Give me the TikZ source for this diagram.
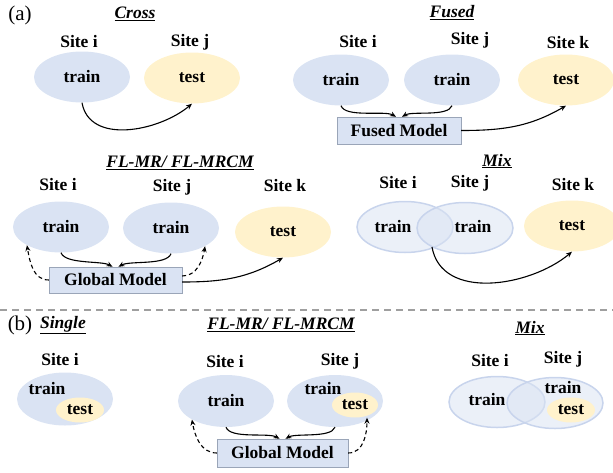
\documentclass[tikz,border=0pt]{standalone}
\usepackage{fontspec}
\setmainfont{Liberation Serif}
\usetikzlibrary{shapes.geometric,arrows.meta}
\definecolor{trainblue}{HTML}{DAE3F3}
\definecolor{testyellow}{HTML}{FFF2CC}
\definecolor{mixedge}{HTML}{C8D4EC}
\definecolor{boxedge}{HTML}{9AA5B8}
\begin{document}
\begin{tikzpicture}[x=1pt,y=1pt,
	every node/.style={font=\fontsize{17.5}{20}\selectfont\bfseries},
	lbl/.style={font=\fontsize{21}{24}\selectfont},
	ttl/.style={font=\fontsize{17.5}{20}\selectfont\bfseries\itshape},
	trn/.style={ellipse,fill=trainblue,minimum width=96pt,minimum height=51pt,inner sep=0pt},
	tst/.style={trn,fill=testyellow},
	mixtrn/.style={trn,fill opacity=0.55,draw=mixedge,line width=1.5pt},
	testin/.style={ellipse,fill=testyellow,minimum width=48pt,minimum height=25pt,inner sep=0pt},
	model/.style={rectangle,fill=trainblue,draw=boxedge,inner sep=0pt},
	flow/.style={-{Stealth[length=6pt,width=5pt]},line width=1.1pt},
	back/.style={flow,dash pattern=on 4pt off 3pt},
	inl/.style={out=-70,in=150,looseness=0.6},
	inr/.style={out=-110,in=30,looseness=0.6}]
	\useasboundingbox (0,0) rectangle (613,-472);

	% (a) Cross
	\node[lbl] (la) at (20,-15) {(a)};
	\node[ttl] (tcross) at (135,-14) {\underline{Cross}};
	\node (csi) at (79,-42) {Site i};
	\node (csj) at (190,-42) {Site j};
	\node[trn] (ci) at (82,-77) {train};
	\node[tst] (cj) at (192,-78) {test};
	\draw[flow] (ci.south) to[out=-80,in=-140] (cj.south);

	% (a) Fused
	\node[ttl] (tfused) at (452,-13) {\underline{Fused}};
	\node (fsi) at (358,-42) {Site i};
	\node (fsj) at (470,-40) {Site j};
	\node (fsk) at (568,-43) {Site k};
	\node[trn] (fi) at (341,-80) {train};
	\node[trn] (fj) at (452,-80) {train};
	\node[tst] (fk) at (566,-80) {test};
	\node[model,minimum width=124pt,minimum height=27pt] (fm) at (399,-130.5) {Fused Model};
	\draw[flow] (fi.south) to[inl] ([xshift=-3pt]fm.north);
	\draw[flow] (fj.south) to[inr] ([xshift=3pt]fm.north);
	\draw[flow] (fm.east) to[out=0,in=-150] (fk.south);

	% (a) FL-MR / FL-MRCM
	\node[ttl] (tfla) at (180,-163) {\underline{FL-MR/ FL-MRCM}};
	\node (gsi) at (58,-185) {Site i};
	\node (gsj) at (172,-187) {Site j};
	\node (gsk) at (285,-186) {Site k};
	\node[trn] (gi) at (61,-227) {train};
	\node[trn] (gj) at (171,-228) {train};
	\node[tst] (gk) at (283,-232) {test};
	\node[model,minimum width=133pt,minimum height=26pt] (gm) at (115.5,-280) {Global Model};
	\draw[flow] (gi.south) to[inl] ([xshift=-3pt]gm.north);
	\draw[flow] (gj.south) to[inr] ([xshift=3pt]gm.north);
	\draw[back] (gm.west) to[out=180,in=-80] (gi.south west);
	\draw[back] ([yshift=4pt]gm.east) to[out=0,in=-100] (gj.south east);
	\draw[flow] ([yshift=-2pt]gm.east) to[out=0,in=-150] (gk.south);

	% (a) Mix
	\node[ttl] (tmixa) at (497,-161) {\underline{Mix}};
	\node (msi) at (398,-183) {Site i};
	\node (msj) at (470,-183) {Site j};
	\node (msk) at (573,-185) {Site k};
	\node[mixtrn] (mi) at (405,-227) {};
	\node[mixtrn] (mj) at (465,-228) {};
	\node (mit) at (393,-227) {train};
	\node (mjt) at (473,-227) {train};
	\node[tst] (mk) at (572,-226) {test};
	\coordinate (mx) at (432,-247);
	\draw[flow] (mx) to[out=-80,in=-140] (mk.south);

	\draw[gray!75,line width=1.3pt,dash pattern=on 7pt off 5pt] (0,-310) -- (613,-310);

	% (b) Single
	\node[lbl] (lb) at (20,-325) {(b)};
	\node[ttl] (tsingle) at (63,-325) {\underline{Single}};
	\node (ssi) at (60,-360) {Site i};
	\node[trn,minimum height=53pt] (si) at (65,-399) {};
	\node (sitr) at (47,-389) {train};
	\node[testin] (st) at (80,-410) {test};

	% (b) FL-MR / FL-MRCM
	\node[ttl] (tflb) at (281,-325) {\underline{FL-MR/ FL-MRCM}};
	\node (hsi) at (225,-362) {Site i};
	\node (hsj) at (340,-361) {Site j};
	\node[trn,minimum height=52pt] (hi) at (226,-401) {train};
	\node[trn,minimum height=52pt] (hj) at (335,-401) {};
	\node (hjtr) at (323,-389) {train};
	\node[testin,minimum width=46pt] (ht) at (355,-405) {test};
	\node[model,minimum width=131pt,minimum height=28pt] (hm) at (282.5,-453) {Global Model};
	\draw[flow] (hi.south) to[inl] ([xshift=-3pt]hm.north);
	\draw[flow] (hj.south) to[inr] ([xshift=3pt]hm.north);
	\draw[back] (hm.west) to[out=180,in=-80] (hi.south west);
	\draw[back] (hm.east) to[out=0,in=-90] ([xshift=12pt]ht.south);

	% (b) Mix
	\node[ttl] (tmixb) at (530,-328) {\underline{Mix}};
	\node (nsi) at (490,-361) {Site i};
	\node (nsj) at (563,-359) {Site j};
	\node[mixtrn] (ni) at (497,-402) {};
	\node[mixtrn] (nj) at (555,-403) {};
	\node (nitr) at (487,-400) {train};
	\node (njtr) at (563,-388) {train};
	\node[testin] (nt) at (571,-410) {test};
\end{tikzpicture}
\end{document}
